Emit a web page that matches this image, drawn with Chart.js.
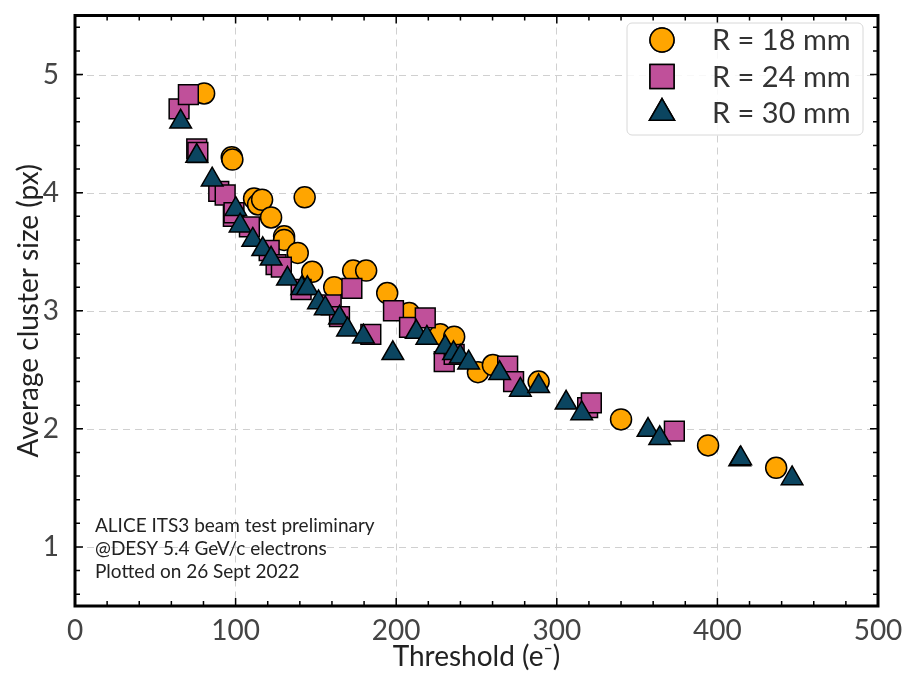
<!DOCTYPE html>
<html>
<head>
<meta charset="utf-8">
<script src="https://cdn.jsdelivr.net/npm/chart.js@4.4.0/dist/chart.umd.min.js"></script>
<style>
  html, body { margin: 0; padding: 0; background: #fff; }
  #wrap { width: 903px; height: 675px; }
</style>
</head>
<body>
<div id="wrap"><canvas id="clusterChart"></canvas></div>
<script>
// R = 18 mm
const thr18  = [80.4, 97.6, 98.0, 111.5, 114, 116.5, 122.1, 130.2, 130.2, 138.7, 143, 147.7, 161.4, 173.2, 181.3, 194.4, 208.1, 227.4, 236.1, 250.9, 260.2, 288.7, 340, 394.2, 436.6];
const size18 = [4.84, 4.30, 4.28, 3.95, 3.90, 3.94, 3.79, 3.63, 3.60, 3.49, 3.96, 3.33, 3.20, 3.34, 3.34, 3.15, 2.98, 2.80, 2.78, 2.48, 2.54, 2.40, 2.08, 1.86, 1.67];
// R = 24 mm
const thr24  = [64.8, 70.6, 75.8, 76.5, 89.5, 93.5, 98.6, 99, 108.6, 120.9, 125.2, 128.5, 140.8, 159.5, 164.7, 172.4, 184.2, 198.3, 208.3, 218.1, 229.9, 236.1, 269.4, 273.1, 319.2, 321.5, 373.2];
const size24 = [4.71, 4.83, 4.37, 4.34, 4.01, 3.98, 3.80, 3.83, 3.71, 3.51, 3.39, 3.37, 3.18, 3.05, 2.95, 3.19, 2.80, 3.00, 2.86, 2.94, 2.57, 2.63, 2.53, 2.40, 2.18, 2.22, 1.98];
// R = 30 mm
const thr30  = [65.8, 75.8, 85.4, 100.1, 102.8, 110.7, 116.9, 122.1, 132.3, 141.2, 144.7, 151.6, 155.8, 164.7, 169.7, 179.6, 197.9, 212.5, 219.1, 230.5, 235.7, 239.9, 245.1, 264.4, 277.3, 288.7, 305.8, 315.5, 356.8, 364.1, 413.9, 414.5, 446.5];
const size30 = [4.60, 4.31, 4.11, 3.86, 3.72, 3.60, 3.52, 3.44, 3.27, 3.19, 3.19, 3.07, 3.02, 2.94, 2.84, 2.78, 2.64, 2.82, 2.77, 2.69, 2.64, 2.61, 2.56, 2.47, 2.33, 2.36, 2.22, 2.13, 1.99, 1.92, 1.74, 1.75, 1.58];

const xTicks = [0, 100, 200, 300, 400, 500];
const yTicks = [1, 2, 3, 4, 5];
const seriesLabels = ['R = 18 mm', 'R = 24 mm', 'R = 30 mm'];
const noteLines = ['ALICE ITS3 beam test preliminary', '@DESY 5.4 GeV/c electrons', 'Plotted on 26 Sept 2022'];

const toPts = (xs, ys) => xs.map((x, i) => ({ x: x, y: ys[i] }));

const FONT = 'Lato, "Open Sans", sans-serif';

// y grid, y labels and title (the y scale itself is hidden so it takes no layout room)
const yAxisPlugin = {
  id: 'yAxis',
  beforeDatasetsDraw(chart) {
    const { ctx, chartArea: a, scales: { y } } = chart;
    ctx.save();
    ctx.strokeStyle = '#d0d0d0';
    ctx.lineWidth = 1;
    ctx.setLineDash([7, 5]);
    yTicks.forEach(v => {
      const py = Math.round(y.getPixelForValue(v)) + 0.5;
      ctx.beginPath();
      ctx.moveTo(a.left, py);
      ctx.lineTo(a.right, py);
      ctx.stroke();
    });
    ctx.setLineDash([]);
    ctx.fillStyle = '#444';
    ctx.font = '28px ' + FONT;
    ctx.textAlign = 'right';
    ctx.textBaseline = 'middle';
    yTicks.forEach(v => ctx.fillText(String(v), a.left - 16, y.getPixelForValue(v)));
    ctx.translate(29, (a.top + a.bottom) / 2);
    ctx.rotate(-Math.PI / 2);
    ctx.fillStyle = '#222';
    ctx.textAlign = 'center';
    ctx.fillText('Average cluster size (px)', 0, 0);
    ctx.restore();
  }
};

// frame, inward ticks, legend box and note text
const framePlugin = {
  id: 'frame',
  afterDraw(chart) {
    const { ctx, chartArea: a, scales: { x, y } } = chart;
    ctx.save();
    ctx.strokeStyle = '#000';
    ctx.lineWidth = 1.5;
    const tick = (px, len, vertical) => {
      ctx.beginPath();
      if (vertical) {
        ctx.moveTo(px, a.bottom); ctx.lineTo(px, a.bottom - len);
        ctx.moveTo(px, a.top); ctx.lineTo(px, a.top + len);
      } else {
        ctx.moveTo(a.left, px); ctx.lineTo(a.left + len, px);
        ctx.moveTo(a.right, px); ctx.lineTo(a.right - len, px);
      }
      ctx.stroke();
    };
    for (let v = 0; v <= 500; v += 20) tick(x.getPixelForValue(v), v % 100 === 0 ? 8 : 5, true);
    for (let k = 3; k <= 27; k++) {
      tick(y.getPixelForValue(k / 5), k % 5 === 0 ? 8 : 5, false);
    }
    ctx.lineWidth = 3;
    ctx.strokeRect(a.left, a.top, a.right - a.left, a.bottom - a.top);

    // legend
    const lx = 627, ly = 23, lw = 236, lh = 112;
    ctx.beginPath();
    ctx.roundRect(lx, ly, lw, lh, 5);
    ctx.fillStyle = 'rgba(255,255,255,0.85)';
    ctx.fill();
    ctx.lineWidth = 1;
    ctx.strokeStyle = '#d8d8d8';
    ctx.stroke();
    const legendRadius = { circle: 12, rect: 17, triangle: 14.5 };
    chart.data.datasets.forEach((ds, i) => {
      const cy = 40 + i * 36.5;
      ctx.fillStyle = ds.backgroundColor;
      ctx.strokeStyle = '#000';
      ctx.lineWidth = 1.5;
      Chart.helpers.drawPoint(ctx, { pointStyle: ds.pointStyle, radius: legendRadius[ds.pointStyle], borderWidth: 1.5 }, 662, cy);
      ctx.fill();
      ctx.stroke();
      ctx.fillStyle = '#333';
      ctx.font = '29px ' + FONT;
      ctx.textBaseline = 'middle';
      ctx.textAlign = 'left';
      ctx.fillText(ds.label, 712, cy + 1);
    });

    // note
    ctx.fillStyle = '#222';
    ctx.font = '19px ' + FONT;
    ctx.textBaseline = 'alphabetic';
    noteLines.forEach((t, i) => ctx.fillText(t, 95, 532 + i * 23));
    ctx.restore();
  }
};

const ctx = document.getElementById('clusterChart').getContext('2d');

const chart = new Chart(ctx, {
  type: 'scatter',
  data: {
    datasets: [{
      label: seriesLabels[0],
      data: toPts(thr18, size18),
      pointStyle: 'circle',
      pointRadius: 10.5,
      backgroundColor: '#FFA500',
      borderColor: '#000',
      borderWidth: 1.5,
      order: 3
    }, {
      label: seriesLabels[1],
      data: toPts(thr24, size24),
      pointStyle: 'rect',
      pointRadius: 14,
      backgroundColor: '#C0509A',
      borderColor: '#000',
      borderWidth: 1.5,
      order: 2
    }, {
      label: seriesLabels[2],
      data: toPts(thr30, size30),
      pointStyle: 'triangle',
      pointRadius: 12.5,
      backgroundColor: '#0B4560',
      borderColor: '#000',
      borderWidth: 1.5,
      order: 1
    }]
  },
  options: {
    responsive: true,
    maintainAspectRatio: false,
    animation: false,
    layout: { padding: { top: 7, right: 25, left: 75, bottom: 0 } },
    plugins: {
      legend: { display: false },
      tooltip: { enabled: false }
    },
    scales: {
      x: {
        type: 'linear',
        min: 0,
        max: 500,
        afterBuildTicks: s => { s.ticks = xTicks.map(v => ({ value: v })); },
        afterFit: s => { s.height = 69; s.paddingLeft = 0; s.paddingRight = 0; },
        grid: { color: '#d0d0d0', lineWidth: 1, drawTicks: false },
        border: { display: false, dash: [7, 5] },
        ticks: { padding: 8, color: '#444', font: { family: FONT, size: 28 } },
        title: { display: true, text: 'Threshold (e⁻)', color: '#222', padding: { top: 0, bottom: 1 }, font: { family: FONT, size: 28 } }
      },
      y: {
        type: 'linear',
        display: false,
        min: 0.5,
        max: 5.5
      }
    }
  },
  plugins: [yAxisPlugin, framePlugin]
});
</script>
</body>
</html>
